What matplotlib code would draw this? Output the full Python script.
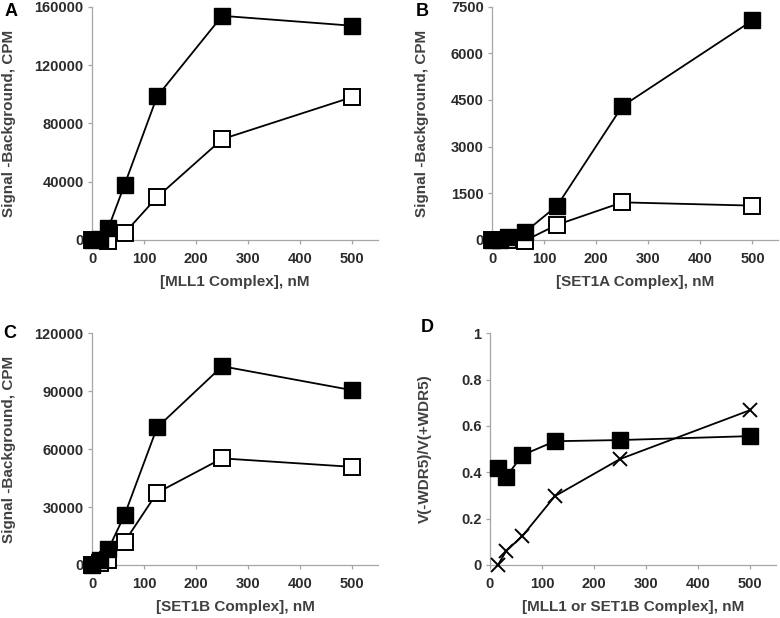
import numpy as np
import matplotlib.pyplot as plt
from matplotlib.ticker import MultipleLocator

plt.rcParams['font.family'] = ['Liberation Sans', 'DejaVu Sans']
plt.rcParams['font.weight'] = 'bold'

# concentrations (nM)
conc = [0, 15.6, 31.25, 62.5, 125, 250, 500]
conc_d = [15.6, 31.25, 62.5, 125, 250, 500]

# A: MLL1
mll1_wdr5 = [0, 500, 8000, 37800, 98400, 153800, 147000]
mll1_nowdr5 = [0, 0, -500, 4600, 29300, 69100, 98000]
# B: SET1A
set1a_wdr5 = [0, 0, 75, 240, 1100, 4300, 7060]
set1a_nowdr5 = [0, 0, 0, -30, 485, 1205, 1100]
# C: SET1B
set1b_wdr5 = [0, 2600, 8100, 25900, 71200, 102900, 90500]
set1b_nowdr5 = [0, 900, 2600, 12000, 37400, 55200, 50800]
# D: ratio
ratio_set1b = [0.42, 0.38, 0.474, 0.534, 0.539, 0.556]
ratio_mll1 = [0.0, 0.06, 0.125, 0.297, 0.457, 0.668]

fig = plt.figure(figsize=(7.8, 6.18), dpi=100)

axis_gray = '#a6a6a6'
txt = '#2b2b2b'


def style(ax, ymax, ystep, xlabel, ylabel, letter, letter_px, ylabel_x):
    ax.set_xlim(0, 550)
    ax.set_ylim(0, ymax)
    ax.xaxis.set_major_locator(MultipleLocator(100))
    ax.yaxis.set_major_locator(MultipleLocator(ystep))
    for s in ['top', 'right']:
        ax.spines[s].set_visible(False)
    for s in ['left', 'bottom']:
        ax.spines[s].set_color(axis_gray)
        ax.spines[s].set_linewidth(0.9)
    ax.tick_params(colors=axis_gray, labelcolor=txt, labelsize=10.5,
                   length=3, width=0.9)
    ax.tick_params(axis='x', pad=6)
    ax.tick_params(axis='y', pad=3)
    for lab in ax.get_xticklabels() + ax.get_yticklabels():
        lab.set_fontweight('bold')
    ax.set_xlabel(xlabel, fontsize=11, fontweight='bold', color='#404040', labelpad=6)
    ax.set_ylabel(ylabel, fontsize=11, fontweight='bold', color='#404040')
    ax.yaxis.set_label_coords(ylabel_x, 0.5)
    px, py = letter_px
    fig.text(px / 780, 1 - py / 618, letter, fontsize=13, fontweight='bold',
             color='black', va='center', ha='left')


def pair(ax, filled, opened):
    ax.plot(conc, opened, color='black', lw=1.3, marker='s', ms=11.5,
            mfc='white', mec='black', mew=1.4, clip_on=False, zorder=3)
    ax.plot(conc, filled, color='black', lw=1.3, marker='s', ms=12,
            mfc='black', mec='black', clip_on=False, zorder=4)


axA = fig.add_axes([0.118, 0.612, 0.367, 0.377])
pair(axA, mll1_wdr5, mll1_nowdr5)
style(axA, 160000, 40000, '[MLL1 Complex], nM', 'Signal -Background, CPM',
      'A', (5, 12), -0.265)

axB = fig.add_axes([0.631, 0.612, 0.367, 0.377])
pair(axB, set1a_wdr5, set1a_nowdr5)
style(axB, 7500, 1500, '[SET1A Complex], nM', 'Signal -Background, CPM',
      'B', (416, 12), -0.222)

axC = fig.add_axes([0.118, 0.0858, 0.367, 0.375])
pair(axC, set1b_wdr5, set1b_nowdr5)
style(axC, 120000, 30000, '[SET1B Complex], nM', 'Signal -Background, CPM',
      'C', (3, 333), -0.265)

axD = fig.add_axes([0.628, 0.0858, 0.367, 0.375])
axD.plot(conc_d, ratio_mll1, color='black', lw=1.3, marker='x', ms=10,
         mew=1.4, clip_on=False, zorder=3)
axD.plot(conc_d, ratio_set1b, color='black', lw=1.3, marker='s', ms=12,
         mfc='black', clip_on=False, zorder=4)
style(axD, 1, 0.2, '[MLL1 or SET1B Complex], nM', 'V(-WDR5)/V(+WDR5)',
      'D', (421, 328), -0.203)
axD.set_yticks([0, 0.2, 0.4, 0.6, 0.8, 1])
axD.set_yticklabels(['0', '0.2', '0.4', '0.6', '0.8', '1'])

fig.savefig('out.png', dpi=100)
